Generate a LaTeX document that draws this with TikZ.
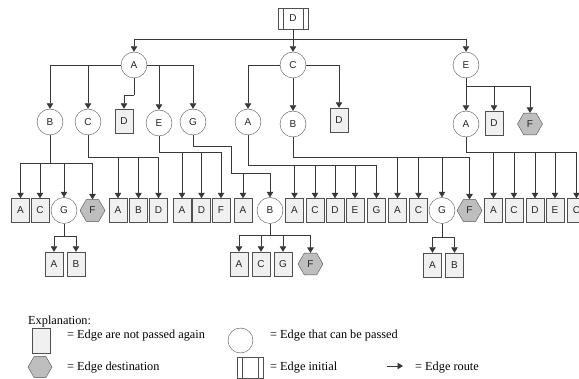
\documentclass[tikz,border=0pt]{standalone}
\usepackage{fontspec}
\setmainfont{Liberation Serif}
\newfontfamily\nodefont{Liberation Sans}
\usetikzlibrary{arrows.meta,shapes.geometric}
\definecolor{boxfill}{HTML}{F0F0F0}
\definecolor{hexfill}{HTML}{BEBEBE}
\definecolor{linec}{HTML}{383838}
\definecolor{bordc}{HTML}{505050}
\tikzset{
  basenode/.style={inner sep=0pt, font=\nodefont\fontsize{10}{12}\selectfont, text=black!85},
  passnode/.style={basenode, circle, draw=bordc, fill=white, minimum size=26pt},
  stopnode/.style={basenode, rectangle, draw=bordc, fill=boxfill, minimum width=18pt, minimum height=24pt},
  destnode/.style={basenode, regular polygon, regular polygon sides=6, draw=bordc, fill=hexfill, minimum size=25pt},
  initnode/.style={basenode, rectangle, draw=bordc, fill=white, minimum width=30pt, minimum height=21pt,
    path picture={
      \draw[bordc] ([xshift=5pt]path picture bounding box.south west) -- ([xshift=5pt]path picture bounding box.north west);
      \draw[bordc] ([xshift=-5pt]path picture bounding box.south east) -- ([xshift=-5pt]path picture bounding box.north east);
    }},
  route/.style={draw=linec, line width=0.8pt, -{Triangle[length=5.5pt,width=6.5pt]}},
  link/.style={draw=linec, line width=0.8pt},
  legtext/.style={font=\fontsize{12.3}{14}\selectfont, inner sep=0pt, anchor=base west},
}
\begin{document}
\begin{tikzpicture}[x=1pt,y=-1pt]
\useasboundingbox (0,0) rectangle (579,379);

% level 0
\node[initnode] (d0) at (293,18.5) {D};
% level 1
\node[passnode] (a1) at (134,65) {A};
\node[passnode] (c1) at (293,65) {C};
\node[passnode] (e1) at (466,65) {E};
% level 2
\node[passnode] (b2) at (50,122) {B};
\node[passnode] (c2) at (88,122) {C};
\node[stopnode] (d2a) at (124,121) {D};
\node[passnode] (e2) at (159,123) {E};
\node[passnode] (g2) at (193,122) {G};
\node[passnode] (a2) at (248,122) {A};
\node[passnode] (b2b) at (293,124) {B};
\node[stopnode] (d2b) at (339,120) {D};
\node[passnode] (a2c) at (466,124) {A};
\node[stopnode] (d2c) at (494,123) {D};
\node[destnode] (f2c) at (530,124) {F};

% level 3 row
\node[stopnode] (r1) at (20.5,210.5) {A};
\node[stopnode] (r2) at (40,210.5) {C};
\node[passnode] (r3) at (64,210.5) {G};
\node[destnode] (r4) at (92.5,210.5) {F};
\node[stopnode] (r5) at (118,210.5) {A};
\node[stopnode] (r6) at (138.5,210.5) {B};
\node[stopnode] (r7) at (158.5,210.5) {D};
\node[stopnode] (r8) at (182,210.5) {A};
\node[stopnode] (r9) at (201.5,210.5) {D};
\node[stopnode] (r10) at (221,210.5) {F};
\node[stopnode] (r11) at (243,210.5) {A};
\node[passnode] (r12) at (270,210.5) {B};
\node[stopnode] (r13) at (294.5,210.5) {A};
\node[stopnode] (r14) at (315,210.5) {C};
\node[stopnode] (r15) at (335,210.5) {D};
\node[stopnode] (r16) at (355,210.5) {E};
\node[stopnode] (r17) at (376.5,210.5) {G};
\node[stopnode] (r18) at (397.5,210.5) {A};
\node[stopnode] (r19) at (418.5,210.5) {C};
\node[passnode] (r20) at (442,210.5) {G};
\node[destnode] (r21) at (469.5,210.5) {F};
\node[stopnode] (r22) at (493.5,210.5) {A};
\node[stopnode] (r23) at (514,210.5) {C};
\node[stopnode] (r24) at (535,210.5) {D};
\node[stopnode] (r25) at (555,210.5) {E};
\node[stopnode] (r26) at (576.5,210.5) {C};

% level 4
\node[stopnode] (l1) at (54,264) {A};
\node[stopnode] (l2) at (76,264) {B};
\node[stopnode] (l3) at (239,264) {A};
\node[stopnode] (l4) at (261,264) {C};
\node[stopnode] (l5) at (283,264) {G};
\node[destnode] (l6) at (310.5,264) {F};
\node[stopnode] (l7) at (432.5,265) {A};
\node[stopnode] (l8) at (454.5,265) {B};

% junctions
\coordinate (j0) at (293,39);
\coordinate (ja1) at (134,95);
\coordinate (je1) at (466,86);
\coordinate (jb2) at (50,163);
\coordinate (jc2) at (88,157);
\coordinate (je2) at (159,152);
\coordinate (jg2a) at (193,146);
\coordinate (jg2b) at (231,146);
\coordinate (jg2c) at (231,173);
\coordinate (ja2) at (248,165);
\coordinate (jb2b) at (293,157);
\coordinate (ja2c) at (466,152);
\coordinate (jr3) at (64,236);
\coordinate (jr12) at (270,235);
\coordinate (jr20) at (442,237);

% level 0 -> 1
\draw[link] (d0.south) -- (j0);
\draw[route] (j0) -| (a1.north);
\draw[route] (j0) -- (c1.north);
\draw[route] (j0) -| (e1.north);
% A1
\draw[route] (a1.west) -| (b2.north);
\draw[route] (a1.west) -| (c2.north);
\draw[route] (a1.east) -| (e2.north);
\draw[route] (a1.east) -| (g2.north);
\draw[link] (a1.south) -- (ja1);
\draw[route] (ja1) -| (d2a.north);
% C1
\draw[route] (c1.west) -| (a2.north);
\draw[route] (c1.east) -| (d2b.north);
\draw[route] (c1.south) -- (b2b.north);
% E1
\draw[link] (e1.south) -- (je1);
\draw[route] (je1) -- (a2c.north);
\draw[route] (je1) -| (d2c.north);
\draw[route] (je1) -| (f2c.north);
% B2
\draw[link] (b2.south) -- (jb2);
\foreach \n in {r1,r2,r3,r4} \draw[route] (jb2) -| (\n.north);
% C2
\draw[link] (c2.south) -- (jc2);
\foreach \n in {r5,r6,r7} \draw[route] (jc2) -| (\n.north);
% E2
\draw[link] (e2.south) -- (je2);
\foreach \n in {r8,r9,r10} \draw[route] (je2) -| (\n.north);
% G2
\draw[link] (g2.south) -- (jg2a) -- (jg2b) -- (jg2c);
\foreach \n in {r11,r12} \draw[route] (jg2c) -| (\n.north);
% A2
\draw[link] (a2.south) -- (ja2);
\foreach \n in {r13,r14,r15,r16,r17} \draw[route] (ja2) -| (\n.north);
% B2b
\draw[link] (b2b.south) -- (jb2b);
\foreach \n in {r18,r19,r20,r21} \draw[route] (jb2b) -| (\n.north);
% A2c
\draw[link] (a2c.south) -- (ja2c);
\foreach \n in {r22,r23,r24,r25,r26} \draw[route] (ja2c) -| (\n.north);
% level 3 -> 4
\draw[link] (r3.south) -- (jr3);
\foreach \n in {l1,l2} \draw[route] (jr3) -| (\n.north);
\draw[link] (r12.south) -- (jr12);
\foreach \n in {l3,l4,l5,l6} \draw[route] (jr12) -| (\n.north);
\draw[link] (r20.south) -- (jr20);
\foreach \n in {l7,l8} \draw[route] (jr20) -| (\n.north);

% legend
\node[legtext] (lt0) at (28,325) {Explanation:};
\node[stopnode, minimum height=25pt] (lg1) at (41.5,341) {};
\node[legtext] (lt1) at (67,339) {= Edge are not passed again};
\node[passnode, minimum size=25pt] (lg2) at (240.5,340.5) {};
\node[legtext] (lt2) at (270,339) {= Edge that can be passed};
\node[destnode, minimum size=24pt] (lg3) at (40,367) {};
\node[legtext] (lt3) at (67,371) {= Edge destination};
\node[initnode, minimum width=26pt, minimum height=21pt] (lg4) at (250,367.5) {};
\node[legtext] (lt4) at (270,371) {= Edge initial};
\coordinate (la1) at (387,366);
\coordinate (la2) at (403,366);
\draw[route] (la1) -- (la2);
\node[legtext] (lt5) at (415,371) {= Edge route};
\end{tikzpicture}
\end{document}
